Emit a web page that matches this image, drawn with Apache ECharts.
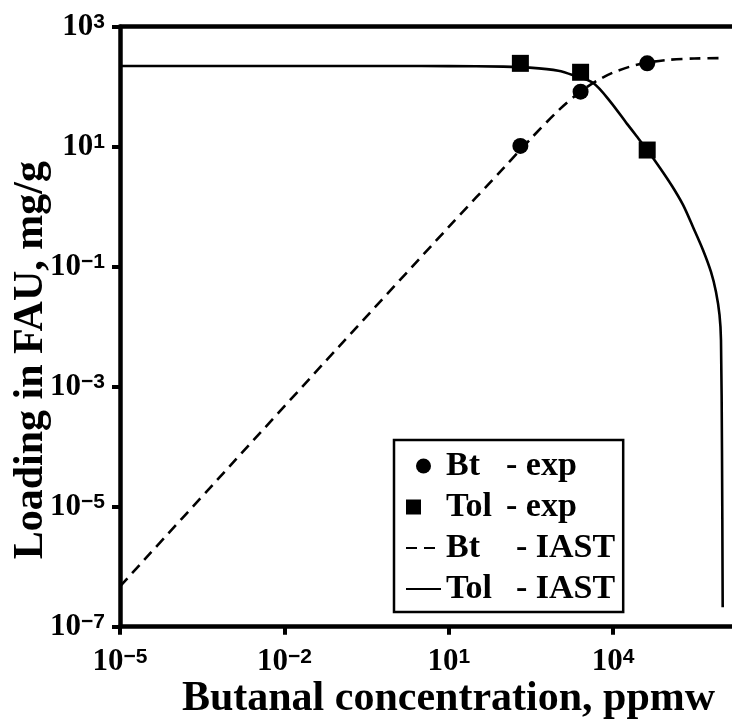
<!DOCTYPE html>
<html>
<head>
<meta charset="utf-8">
<script src="https://cdn.jsdelivr.net/npm/echarts@6/dist/echarts.min.js"></script>
<style>
html,body{margin:0;padding:0;background:#fff;}
#chart{width:732px;height:719px;}
</style>
</head>
<body>
<div id="chart"></div>
<script>
// ---- data ----
const btExpX = [203, 2550, 41900];
const btExpY = [10.3, 82.6, 245];
const tolExpX = [203, 2550, 41900];
const tolExpY = [245, 174, 8.8];

const btIastX = [1e-5, 1e-3, 0.1, 10, 100, 300, 1000, 2500, 5000, 1e4, 2e4, 4e4, 1e5, 3e5, 1e6];
const btIastY = [4.7e-7, 4.7e-5, 4.7e-3, 0.46, 4.4, 13, 40, 82, 125, 172, 215, 250, 280, 295, 300];

const tolIastX = [1e-5, 1, 10, 100, 300, 1000, 2000, 4400, 8800, 1.77e4, 2.67e4, 4.19e4, 7.18e4, 1.19e5,
  1.89e5, 2.87e5, 4.37e5, 6.12e5, 7.55e5, 8.75e5, 9.31e5, 9.71e5, 1e6];
const tolIastY = [221, 221, 220, 216, 208, 185, 152, 114, 57, 24.5, 15.1, 8.8, 4.42, 2.21,
  1.07, 0.459, 0.19, 0.0817, 0.0379, 0.0157, 6.0e-3, 8.7e-5, 2.1e-7];

const xTickValues = [1e-5, 1e-2, 1e1, 1e4];
const yTickValues = [1e-7, 1e-5, 1e-3, 1e-1, 1e1, 1e3];

const legendParts = {
  'Bt - exp': ['Bt', '- exp', 'a1'],
  'Tol - exp': ['Tol', '- exp', 'a1'],
  'Bt - IAST': ['Bt', '- IAST', 'a2'],
  'Tol - IAST': ['Tol', '- IAST', 'a2']
};

const zip = (xs, ys) => xs.map((x, i) => [x, ys[i]]);

const tickFont = 'Liberation Sans Narrow';
const supFont = 'Liberation Sans';
const titleFont = 'Liberation Serif';

function powLabel(v) {
  const e = Math.round(Math.log10(v));
  const s = e < 0 ? '\u2212' + Math.abs(e) : String(e);
  return '{b|10}{s|' + s + '}';
}
const labelRich = {
  b: { fontFamily: tickFont, fontWeight: 'bold', fontSize: 31, lineHeight: 30, color: '#000' },
  s: { fontFamily: supFont, fontWeight: 'bold', fontSize: 21, lineHeight: 20, verticalAlign: 'top', color: '#000' }
};

const axisLineStyle = { color: '#000', width: 4.5 };

const chart = echarts.init(document.getElementById('chart'), null, { renderer: 'canvas' });
chart.setOption({
  animation: false,
  backgroundColor: '#fff',
  grid: { left: 120, right: 0, top: 26.7, bottom: 92.3, containLabel: false, outerBoundsMode: 'none' },
  legend: {
    orient: 'vertical',
    left: 394,
    top: 440,
    padding: [9, 8, 6, 11],
    borderColor: '#000',
    borderWidth: 2.5,
    backgroundColor: '#fff',
    itemWidth: 35,
    itemHeight: 15,
    itemGap: 7,
    selectedMode: false,
    data: [
      { name: 'Bt - exp', icon: 'circle', itemStyle: { color: '#000', opacity: 1 } },
      { name: 'Tol - exp', icon: 'square', itemStyle: { color: '#000', opacity: 1 } },
      { name: 'Bt - IAST', itemStyle: { opacity: 0 } },
      { name: 'Tol - IAST', itemStyle: { opacity: 0 } }
    ],
    formatter: function (name) {
      const p = legendParts[name];
      return '{' + p[2] + '|' + p[0] + '}{c|' + p[1] + '}';
    },
    textStyle: {
      fontFamily: titleFont, fontWeight: 'bold', fontSize: 34, lineHeight: 30, color: '#000',
      rich: {
        a1: { fontFamily: titleFont, fontWeight: 'bold', fontSize: 34, lineHeight: 30, width: 60, color: '#000' },
        a2: { fontFamily: titleFont, fontWeight: 'bold', fontSize: 34, lineHeight: 30, width: 70, color: '#000' },
        c: { fontFamily: titleFont, fontWeight: 'bold', fontSize: 34, lineHeight: 30, color: '#000' }
      }
    }
  },
  xAxis: [
    {
      type: 'log',
      min: 1e-5,
      max: Math.pow(10, 6.17),
      position: 'bottom',
      name: 'Butanal concentration, ppmw',
      nameLocation: 'middle',
      nameGap: 51,
      nameMoveOverlap: false,
      nameTextStyle: { fontFamily: titleFont, fontWeight: 'bold', fontSize: 42, color: '#000', padding: [0, 0, 0, 45] },
      axisLine: { show: true, onZero: false, lineStyle: axisLineStyle },
      axisTick: { show: true, length: 8, inside: false, lineStyle: { color: '#000', width: 4 }, customValues: xTickValues },
      axisLabel: { show: true, margin: 20, formatter: powLabel, rich: labelRich, customValues: xTickValues },
      splitLine: { show: false },
      minorTick: { show: false }
    },
    {
      type: 'log',
      min: 1e-5,
      max: Math.pow(10, 6.17),
      position: 'top',
      axisLine: { show: true, onZero: false, lineStyle: axisLineStyle },
      axisTick: { show: false },
      axisLabel: { show: false },
      splitLine: { show: false }
    }
  ],
  yAxis: {
    type: 'log',
    min: 1e-7,
    max: 1e3,
    name: 'Loading in FAU, mg/g',
    nameLocation: 'middle',
    nameGap: 68,
    nameMoveOverlap: false,
    nameTextStyle: { fontFamily: titleFont, fontWeight: 'bold', fontSize: 42, color: '#000', padding: [0, 67, 0, 0] },
    axisLine: { show: true, onZero: false, lineStyle: axisLineStyle },
    axisTick: { show: true, length: 8, inside: false, lineStyle: { color: '#000', width: 4 }, customValues: yTickValues },
    axisLabel: { show: true, margin: 15, formatter: powLabel, rich: labelRich, customValues: yTickValues },
    splitLine: { show: false },
    minorTick: { show: false }
  },
  series: [
    {
      name: 'Bt - exp', type: 'scatter', xAxisIndex: 0,
      symbol: 'circle', symbolSize: 16,
      itemStyle: { color: '#000', opacity: 1 },
      data: zip(btExpX, btExpY), z: 5
    },
    {
      name: 'Tol - exp', type: 'scatter', xAxisIndex: 0,
      symbol: 'square', symbolSize: 17,
      itemStyle: { color: '#000', opacity: 1 },
      data: zip(tolExpX, tolExpY), z: 5
    },
    {
      name: 'Bt - IAST', type: 'line', xAxisIndex: 0,
      symbol: 'none', smooth: 0.3,
      lineStyle: { color: '#000', width: 2.6, type: [11, 7] },
      itemStyle: { color: '#000' },
      data: zip(btIastX, btIastY), z: 3
    },
    {
      name: 'Tol - IAST', type: 'line', xAxisIndex: 0,
      symbol: 'none', smooth: 0.3,
      lineStyle: { color: '#000', width: 2.6, type: 'solid' },
      itemStyle: { color: '#000' },
      data: zip(tolIastX, tolIastY), z: 3
    }
  ]
});
</script>
</body>
</html>
